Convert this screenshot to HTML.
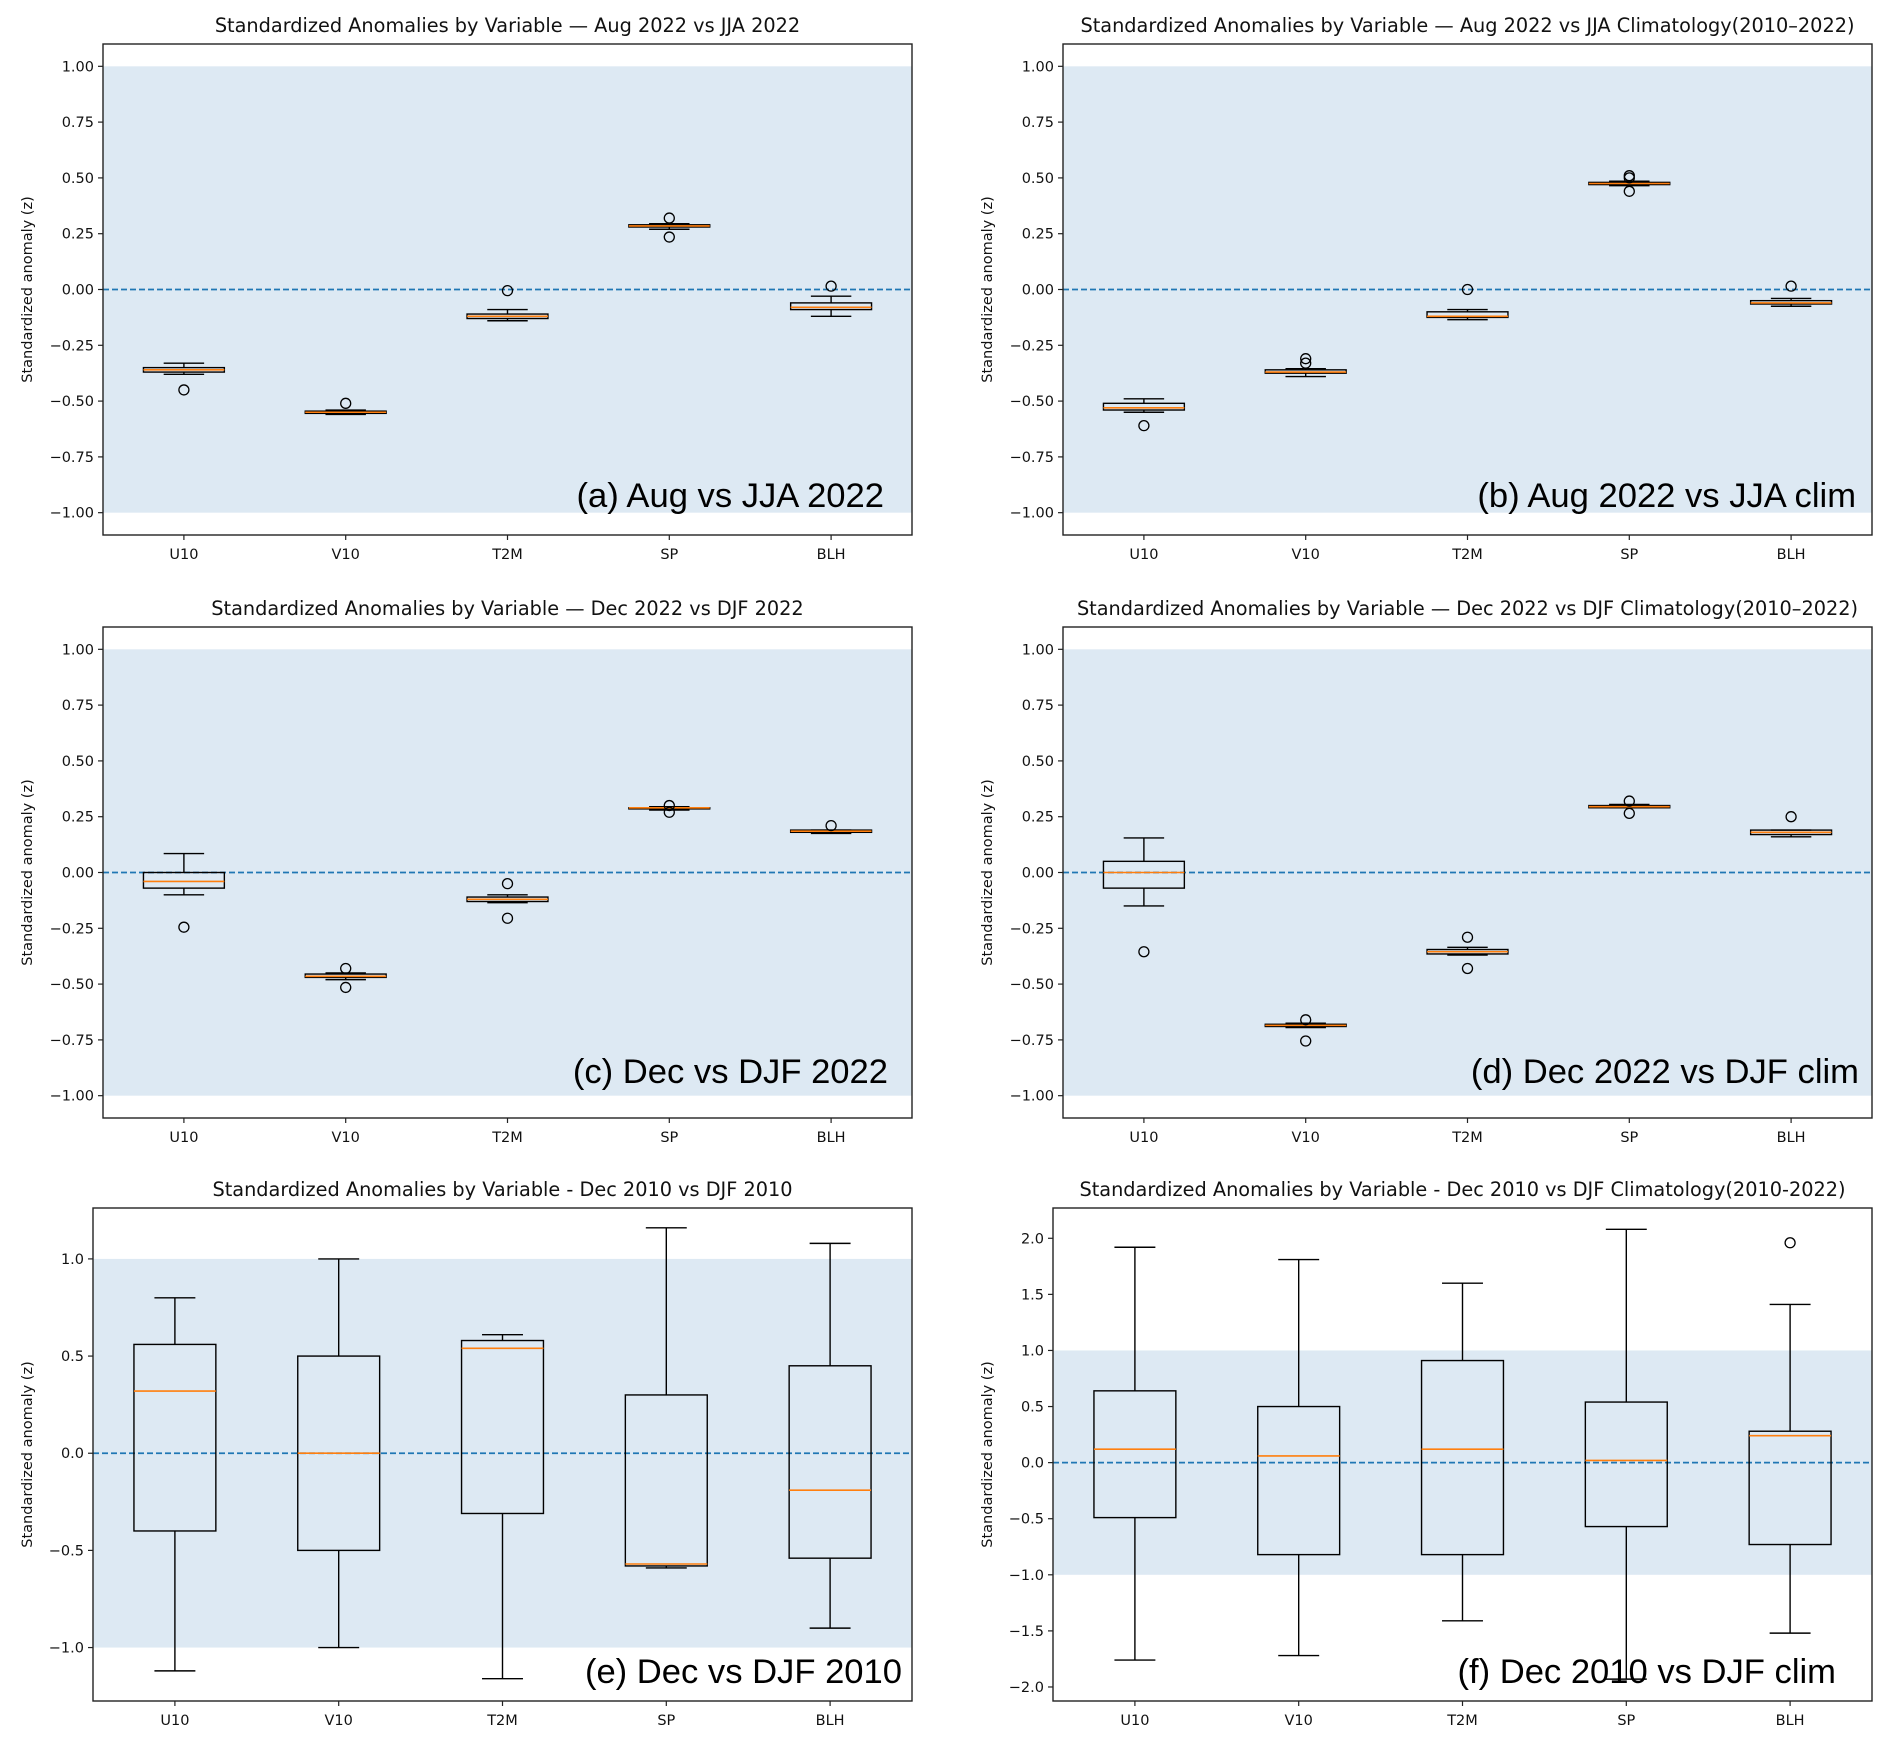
<!DOCTYPE html>
<html><head><meta charset="utf-8"><style>
html,body{margin:0;padding:0;background:#fff}
svg{display:block}
</style></head><body>
<svg id="fig" width="1892" height="1745" viewBox="0 0 1892 1745" xmlns="http://www.w3.org/2000/svg"></svg>
<script>
const categories = ["U10","V10","T2M","SP","BLH"];
// each stat row: [whiskerLow, q1, median, q3, whiskerHigh]
const statsA = [[-0.38,-0.37,-0.36,-0.35,-0.33],[-0.56,-0.555,-0.55,-0.545,-0.54],[-0.14,-0.13,-0.12,-0.11,-0.09],[0.27,0.28,0.285,0.29,0.295],[-0.12,-0.09,-0.08,-0.06,-0.03]];
const fliersA = [[-0.45],[-0.51],[-0.005],[0.32,0.235],[0.015]];
const statsB = [[-0.55,-0.54,-0.53,-0.51,-0.49],[-0.39,-0.375,-0.37,-0.36,-0.355],[-0.135,-0.125,-0.12,-0.1,-0.09],[0.465,0.47,0.475,0.48,0.485],[-0.075,-0.065,-0.06,-0.05,-0.04]];
const fliersB = [[-0.61],[-0.31,-0.33],[0.0],[0.51,0.50,0.44],[0.015]];
const statsC = [[-0.1,-0.07,-0.04,0.0,0.085],[-0.48,-0.47,-0.465,-0.455,-0.45],[-0.135,-0.13,-0.12,-0.11,-0.10],[0.28,0.285,0.29,0.29,0.295],[0.175,0.18,0.185,0.19,0.19]];
const fliersC = [[-0.245],[-0.43,-0.515],[-0.05,-0.205],[0.30,0.27],[0.21]];
const statsD = [[-0.15,-0.07,0.0,0.05,0.155],[-0.695,-0.69,-0.685,-0.68,-0.675],[-0.37,-0.365,-0.355,-0.345,-0.335],[0.29,0.29,0.295,0.30,0.305],[0.16,0.17,0.18,0.19,0.19]];
const fliersD = [[-0.355],[-0.66,-0.755],[-0.29,-0.43],[0.32,0.265],[0.25]];
const statsE = [[-1.12,-0.40,0.32,0.56,0.80],[-1.0,-0.5,0.0,0.5,1.0],[-1.16,-0.31,0.54,0.58,0.61],[-0.59,-0.58,-0.57,0.30,1.16],[-0.90,-0.54,-0.19,0.45,1.08]];
const fliersE = [[],[],[],[],[]];
const statsF = [[-1.76,-0.49,0.12,0.64,1.92],[-1.72,-0.82,0.06,0.50,1.81],[-1.41,-0.82,0.12,0.91,1.60],[-1.93,-0.57,0.02,0.54,2.08],[-1.52,-0.73,0.24,0.28,1.41]];
const fliersF = [[],[],[],[],[1.96]];
const ticks4 = [1.0,0.75,0.5,0.25,0,-0.25,-0.5,-0.75,-1.0];
const ticks2 = [1.0,0.5,0,-0.5,-1.0];
const ticksF = [2.0,1.5,1.0,0.5,0,-0.5,-1.0,-1.5,-2.0];
const titles = ["Standardized Anomalies by Variable \u2014 Aug 2022 vs JJA 2022","Standardized Anomalies by Variable \u2014 Aug 2022 vs JJA Climatology(2010\u20132022)","Standardized Anomalies by Variable \u2014 Dec 2022 vs DJF 2022","Standardized Anomalies by Variable \u2014 Dec 2022 vs DJF Climatology(2010\u20132022)","Standardized Anomalies by Variable - Dec 2010 vs DJF 2010","Standardized Anomalies by Variable - Dec 2010 vs DJF Climatology(2010-2022)"];
const labels = ["(a) Aug vs JJA 2022","(b) Aug 2022 vs JJA clim","(c) Dec vs DJF 2022","(d) Dec 2022 vs DJF clim","(e) Dec vs DJF 2010","(f) Dec 2010 vs DJF clim"];

const NS="http://www.w3.org/2000/svg";
const svg=document.getElementById('fig');
function mk(tag,attrs,parent){const e=document.createElementNS(NS,tag);for(const k in attrs)e.setAttribute(k,attrs[k]);(parent||svg).appendChild(e);return e;}
const FONT='"DejaVu Sans","Liberation Sans",sans-serif';

const panels=[
 {id:'a',L:103,R:912,T:44,B:535,y0:-1.1,y1:1.1,ticks:ticks4,dec:2,stats:statsA,fl:fliersA,ylx:27,annX:884,annY:507},
 {id:'b',L:1063,R:1872,T:44,B:535,y0:-1.1,y1:1.1,ticks:ticks4,dec:2,stats:statsB,fl:fliersB,ylx:987,annX:1856,annY:507},
 {id:'c',L:103,R:912,T:627,B:1118,y0:-1.1,y1:1.1,ticks:ticks4,dec:2,stats:statsC,fl:fliersC,ylx:27,annX:888,annY:1083},
 {id:'d',L:1063,R:1872,T:627,B:1118,y0:-1.1,y1:1.1,ticks:ticks4,dec:2,stats:statsD,fl:fliersD,ylx:987,annX:1859,annY:1083},
 {id:'e',L:93,R:912,T:1208,B:1701,y0:-1.275,y1:1.262,ticks:ticks2,dec:1,stats:statsE,fl:fliersE,ylx:27,annX:902,annY:1683},
 {id:'f',L:1053,R:1872,T:1208,B:1701,y0:-2.125,y1:2.27,ticks:ticksF,dec:1,stats:statsF,fl:fliersF,ylx:987,annX:1836,annY:1683}
];

panels.forEach((p,pi)=>{
  const g=mk('g',{});
  
  
  const ys=v=>p.B-(v-p.y0)/(p.y1-p.y0)*(p.B-p.T);
  const xs=i=>p.L+(i+1-0.5)/5*(p.R-p.L);
  const bw=0.5/5*(p.R-p.L), cw=bw/2;
  const band=mk('rect',{x:p.L,y:ys(1),width:p.R-p.L,height:ys(-1)-ys(1),fill:'#dde9f3'},g);
  
  
  const zl=mk('line',{x1:p.L,x2:p.R,y1:ys(0),y2:ys(0),stroke:'#1f77b4','stroke-width':1.8,'stroke-dasharray':'6,3'},g);
  
  
  p.stats.forEach((s,i)=>{
    const bg=mk('g',{},g);
    
    
    const x=xs(i);
    mk('line',{x1:x,x2:x,y1:ys(s[0]),y2:ys(s[1]),stroke:'#000','stroke-width':1.4},bg);
    mk('line',{x1:x,x2:x,y1:ys(s[3]),y2:ys(s[4]),stroke:'#000','stroke-width':1.4},bg);
    mk('line',{x1:x-cw/2,x2:x+cw/2,y1:ys(s[0]),y2:ys(s[0]),stroke:'#000','stroke-width':1.4},bg);
    mk('line',{x1:x-cw/2,x2:x+cw/2,y1:ys(s[4]),y2:ys(s[4]),stroke:'#000','stroke-width':1.4},bg);
    mk('rect',{x:x-bw/2,y:ys(s[3]),width:bw,height:Math.max(ys(s[1])-ys(s[3]),0.5),fill:'none',stroke:'#000','stroke-width':1.4},bg);
    mk('line',{x1:x-bw/2,x2:x+bw/2,y1:ys(s[2]),y2:ys(s[2]),stroke:'#ff7f0e','stroke-width':1.6},bg);
    p.fl[i].forEach(v=>{
      const c=mk('circle',{cx:x,cy:ys(v),r:5,fill:'none',stroke:'#000','stroke-width':1.3},bg);
      
      
    });
  });
  const fr=mk('rect',{x:p.L,y:p.T,width:p.R-p.L,height:p.B-p.T,fill:'none',stroke:'#222','stroke-width':1.4},g);
  
  
  p.ticks.forEach(t=>{
    const y=ys(t);
    mk('line',{x1:p.L-5,x2:p.L,y1:y,y2:y,stroke:'#222','stroke-width':1.2},g);
    const tx=mk('text',{x:p.L-9,y:y+5,'text-anchor':'end','font-size':14.5,'font-family':FONT,fill:'#111'},g);
    tx.textContent=(t<0?'\u2212':'')+Math.abs(t).toFixed(p.dec);
    
    
  });
  categories.forEach((c,i)=>{
    const x=xs(i);
    mk('line',{x1:x,x2:x,y1:p.B,y2:p.B+5,stroke:'#222','stroke-width':1.2},g);
    const tx=mk('text',{x:x,y:p.B+24,'text-anchor':'middle','font-size':14.5,'font-family':FONT,fill:'#111'},g);
    tx.textContent=c;
    
    
  });
  const tt=mk('text',{x:(p.L+p.R)/2,y:p.T-12,'text-anchor':'middle','font-size':19.3,'font-family':FONT,fill:'#111'},g);
  tt.textContent=titles[pi];
  
  
  const yl=mk('text',{x:0,y:0,transform:'translate('+(p.ylx+5)+','+((p.T+p.B)/2)+') rotate(-90)','text-anchor':'middle','font-size':14.5,'font-family':FONT,fill:'#111'},g);
  yl.textContent='Standardized anomaly (z)';
  
  
  const an=mk('text',{x:p.annX,y:p.annY,'text-anchor':'end','font-size':34.6,'font-family':'"Liberation Sans",Arial,sans-serif',fill:'#000'},g);
  an.textContent=labels[pi];
  
  
});
</script>
</body></html>
